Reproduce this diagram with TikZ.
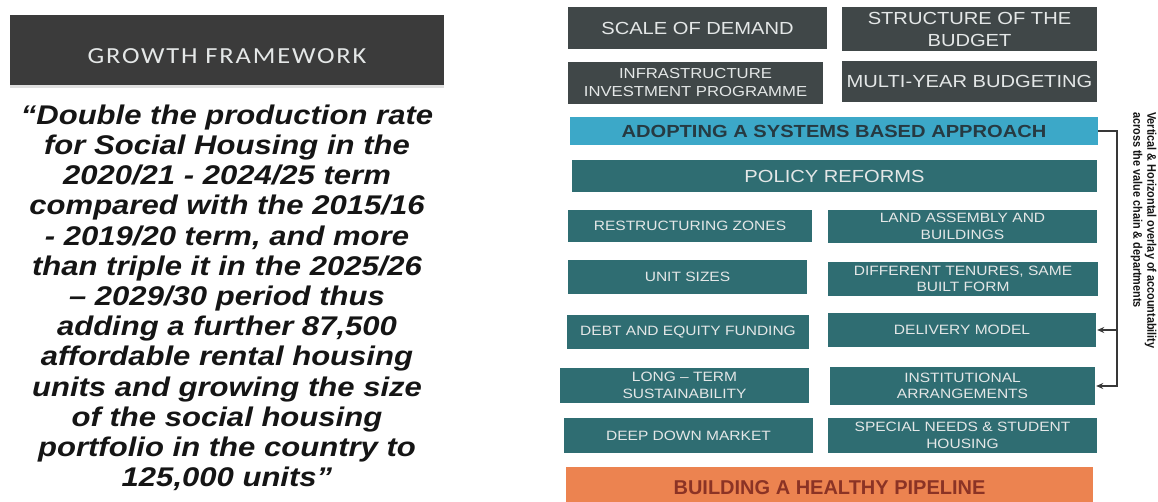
\documentclass[tikz,border=0pt]{standalone}
\usepackage{fontspec}
\setmainfont{Liberation Sans}
\newfontfamily\boxfont{Liberation Sans}[FakeStretch=1.15]
\newfontfamily\plainfont{Liberation Sans}
\newfontfamily\narrowfont{Liberation Sans}[FakeStretch=0.87]
\newfontfamily\headfont{Carlito}[FakeStretch=1.15,LetterSpace=8]
\usetikzlibrary{arrows.meta,shadows}

\definecolor{headgray}{HTML}{3B3B3B}
\definecolor{slate}{HTML}{404748}
\definecolor{tealfill}{HTML}{2F6D72}
\definecolor{skyband}{HTML}{3CA8C8}
\definecolor{pipeorange}{HTML}{EC8350}
\definecolor{pipetext}{HTML}{8B3325}
\definecolor{lighttext}{HTML}{E4E7E7}
\definecolor{systext}{HTML}{263A42}
\definecolor{wire}{HTML}{383838}
\definecolor{inktext}{HTML}{151515}

\begin{document}
\begin{tikzpicture}[x=1pt,y=-1pt,
  block/.style={inner sep=0pt, align=center, text=lighttext},
  slatebox/.style={block, fill=slate, font=\boxfont\fontsize{17.5}{22}\selectfont},
  slatesmall/.style={block, fill=slate, font=\boxfont\fontsize{14.5}{18}\selectfont},
  wideband/.style={block, font=\boxfont\fontsize{17.5}{21}\selectfont},
  tealbox/.style={block, fill=tealfill, font=\boxfont\fontsize{13.5}{16.5}\selectfont},
  wire/.style={draw=wire, line width=1.6pt, -{Stealth[length=7pt,width=6pt]}, shorten >=1pt},
]
% page
\fill[white] (0,0) rectangle (1158,502);
\useasboundingbox (0,0) rectangle (1158,502);

% ---------- left panel ----------
\node[block, fill=headgray, minimum width=434pt, minimum height=70pt,
      drop shadow={shadow xshift=0pt, shadow yshift=-3pt, opacity=0.25},
      font=\headfont\fontsize{23}{26}\selectfont, text=lighttext]
  (growth) at (227,50) {\raisebox{-13.8pt}[0pt][0pt]{GROWTH FRAMEWORK}};

\node[inner sep=0pt, align=center, anchor=north, text=inktext,
      font=\boxfont\bfseries\itshape\fontsize{27}{30.2}\selectfont]
  (goal) at (227,104.5) {“Double the production rate\\
    for Social Housing in the\\
    2020/21 - 2024/25 term\\
    compared with the 2015/16\\
    - 2019/20 term, and more\\
    than triple it in the 2025/26\\
    – 2029/30 period thus\\
    adding a further 87,500\\
    affordable rental housing\\
    units and growing the size\\
    of the social housing\\
    portfolio in the country to\\
    125,000 units”};

% ---------- right panel ----------
\node[slatebox, minimum width=259pt, minimum height=42pt] (demand) at (697.5,28) {SCALE OF DEMAND};
\node[slatebox, minimum width=255pt, minimum height=44pt] (budget) at (969.5,29) {STRUCTURE OF THE\\BUDGET};
\node[slatesmall, minimum width=255pt, minimum height=42pt] (infra) at (695.5,83) {INFRASTRUCTURE\\INVESTMENT PROGRAMME};
\node[slatebox, minimum width=255pt, minimum height=41pt] (multiyear) at (969.5,81.5) {MULTI-YEAR BUDGETING};

\node[wideband, fill=skyband, text=systext, font=\boxfont\bfseries\fontsize{17.5}{21}\selectfont,
      minimum width=528pt, minimum height=28pt] (systems) at (834,131) {ADOPTING A SYSTEMS BASED APPROACH};
\node[wideband, fill=tealfill, minimum width=525pt, minimum height=32pt] (policy) at (834.5,176) {POLICY REFORMS};

\node[tealbox, minimum width=244pt, minimum height=32pt] (zones) at (690,226) {RESTRUCTURING ZONES};
\node[tealbox, minimum width=269pt, minimum height=33pt] (land) at (962.5,226.5) {LAND ASSEMBLY AND\\BUILDINGS};
\node[tealbox, minimum width=239pt, minimum height=34pt] (units) at (687.5,277) {UNIT SIZES};
\node[tealbox, minimum width=270pt, minimum height=34pt] (tenures) at (963,279) {DIFFERENT TENURES, SAME\\BUILT FORM};
\node[tealbox, minimum width=242pt, minimum height=34pt] (funding) at (688,332) {DEBT AND EQUITY FUNDING};
\node[tealbox, minimum width=268pt, minimum height=34pt] (delivery) at (962,330) {DELIVERY MODEL};
\node[tealbox, minimum width=249pt, minimum height=35pt] (longterm) at (684.5,385.5) {LONG – TERM\\SUSTAINABILITY};
\node[tealbox, minimum width=265pt, minimum height=38pt] (institutional) at (962.5,386) {INSTITUTIONAL\\ARRANGEMENTS};
\node[tealbox, minimum width=249pt, minimum height=35pt] (deepdown) at (688.5,435.5) {DEEP DOWN MARKET};
\node[tealbox, minimum width=269pt, minimum height=35pt] (special) at (962.5,435.5) {SPECIAL NEEDS \& STUDENT\\HOUSING};

\node[block, fill=pipeorange, text=pipetext, minimum width=527pt, minimum height=35pt,
      font=\plainfont\bfseries\fontsize{20}{24}\selectfont]
  (pipeline) at (829.5,484.5) {\raisebox{-9.7pt}[0pt][0pt]{BUILDING A HEALTHY PIPELINE}};

% accountability overlay connector
\draw[wire] (systems.east) -- ++(19,0) coordinate (bus) |- (institutional.east);
\draw[wire] (bus |- delivery.east) -- (delivery.east);

\node[inner sep=0pt, align=left, rotate=-90, anchor=north west, text=inktext,
      font=\narrowfont\bfseries\fontsize{12.5}{14}\selectfont]
  (overlay) at (1156.5,112) {Vertical \& Horizontal overlay of accountability\\across the value chain \& departments};
\end{tikzpicture}
\end{document}
